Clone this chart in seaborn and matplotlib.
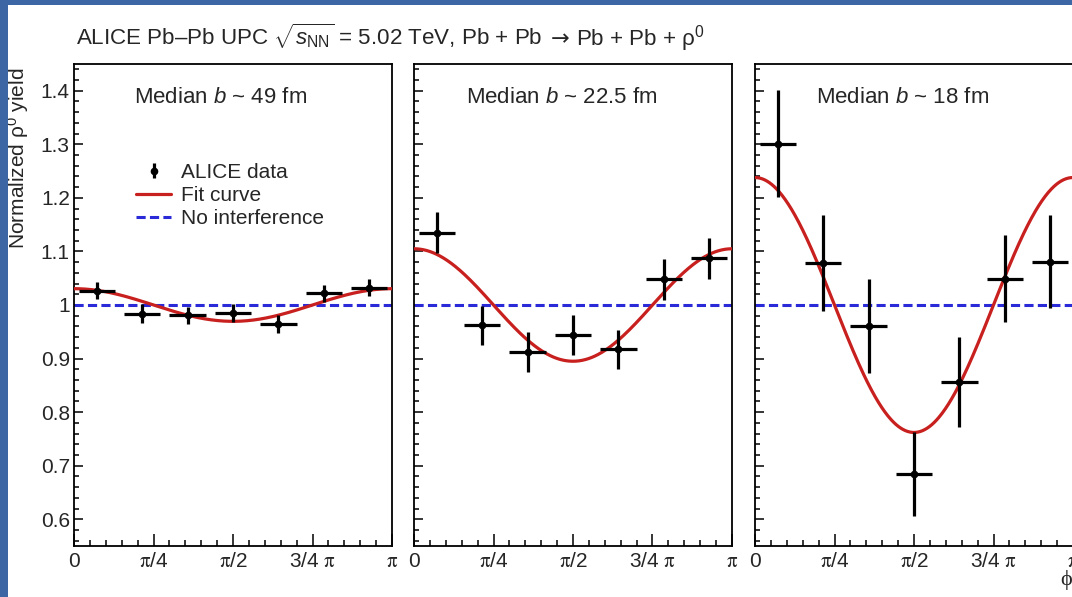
import numpy as np
import pandas as pd
import matplotlib
matplotlib.use("Agg")
import matplotlib.pyplot as plt
import seaborn as sns
from matplotlib.patches import Rectangle
from matplotlib.legend_handler import HandlerErrorbar
from matplotlib.ticker import MultipleLocator, FuncFormatter, FixedLocator

# ---------------- data ----------------
panel_labels = ["Median $b$ ~ 49 fm", "Median $b$ ~ 22.5 fm", "Median $b$ ~ 18 fm"]
n_bins = 7
yield_49 = [1.027, 0.984, 0.981, 0.985, 0.964, 1.022, 1.032]
err_49 = [0.016, 0.017, 0.016, 0.016, 0.017, 0.016, 0.016]
yield_22 = [1.135, 0.962, 0.912, 0.944, 0.917, 1.048, 1.087]
err_22 = [0.038, 0.037, 0.037, 0.037, 0.037, 0.038, 0.038]
yield_18 = [1.301, 1.078, 0.961, 0.684, 0.857, 1.049, 1.081]
err_18 = [0.100, 0.090, 0.088, 0.078, 0.084, 0.081, 0.087]
fit_amplitude = [0.0305, 0.105, 0.238]   # fit: 1 + A cos(2 phi)
xtick_labels = ["0", r"$\mathrm{\pi}$/4", r"$\mathrm{\pi}$/2", r"3/4 $\mathrm{\pi}$", r"$\mathrm{\pi}$"]
ytick_values = [0.6, 0.7, 0.8, 0.9, 1.0, 1.1, 1.2, 1.3, 1.4]
title_parts = [r"ALICE Pb–Pb UPC $\sqrt{s_{\rm NN}}$ = 5.02 TeV, Pb + Pb", "→",
               r"Pb + Pb + ρ$^{0}$"]
ylabel = r"Normalized ρ$^{0}$ yield"

yields = [yield_49, yield_22, yield_18]
errs = [err_49, err_22, err_18]

# ---------------- style ----------------
sns.set_style("white")
plt.rcParams["font.family"] = ["Liberation Sans", "DejaVu Sans"]
plt.rcParams["mathtext.fontset"] = "custom"
plt.rcParams["mathtext.rm"] = "Liberation Sans"
plt.rcParams["mathtext.it"] = "Liberation Sans:italic"
plt.rcParams["mathtext.bf"] = "Liberation Sans:bold"
plt.rcParams["axes.edgecolor"] = "black"
plt.rcParams["axes.linewidth"] = 1.3

W, H = 1072, 597
fig = plt.figure(figsize=(W / 100, H / 100), dpi=100, facecolor="white")

RED = "#c8201e"
BLUE = "#2a2ad8"
FS_TICK = 15
FS_TEXT = 16

bin_w = np.pi / n_bins
phi = (np.arange(n_bins) + 0.5) * bin_w
grid = np.linspace(0, np.pi, 400)

lefts = [74, 414, 755]
ax_w, top, bottom = 318, 64, 546
axes = []
for i in range(3):
    ax = fig.add_axes([lefts[i] / W, 1 - bottom / H, ax_w / W, (bottom - top) / H])
    axes.append(ax)
    ax.set_facecolor("white")

    ax.axhline(1.0, color=BLUE, lw=2.2, dashes=(3.0, 1.4), label="No interference", zorder=2)

    fit_df = pd.DataFrame({"phi": grid, "y": 1 + fit_amplitude[i] * np.cos(2 * grid)})
    sns.lineplot(data=fit_df, x="phi", y="y", ax=ax, color=RED, lw=2.3,
                 label="Fit curve", zorder=3, legend=False)

    ax.errorbar(phi, yields[i], yerr=errs[i], xerr=0.4 * bin_w, fmt="o", color="black",
                ms=4.5, elinewidth=2.3, capsize=0, label="ALICE data", zorder=4)

    ax.set_xlim(0, np.pi)
    ax.set_ylim(0.55, 1.45)
    ax.xaxis.set_major_locator(FixedLocator([0, np.pi / 4, np.pi / 2, 3 * np.pi / 4, np.pi]))
    ax.xaxis.set_minor_locator(MultipleLocator(np.pi / 20))
    ax.set_xticklabels(xtick_labels)
    for lab in ax.get_xticklabels():
        lab.set_math_fontfamily("stix")
    ax.yaxis.set_major_locator(FixedLocator(ytick_values))
    ax.yaxis.set_minor_locator(MultipleLocator(0.02))
    ax.yaxis.set_major_formatter(FuncFormatter(lambda v, p: f"{v:g}"))
    ax.tick_params(axis="x", which="both", bottom=True, top=False)
    ax.tick_params(axis="y", which="both", left=True, right=False)
    ax.tick_params(axis="x", which="major", direction="in", length=8.5, width=1.1,
                   labelsize=FS_TICK, pad=4, color="black")
    ax.tick_params(axis="x", which="minor", direction="in", length=4.3, width=1.1, color="black")
    ax.tick_params(axis="y", which="major", direction="in", length=6.5, width=1.1,
                   labelsize=FS_TICK, pad=3, color="black")
    ax.tick_params(axis="y", which="minor", direction="in", length=3.6, width=1.1, color="black")
    if i > 0:
        ax.tick_params(axis="y", labelleft=False)
    ax.set_xlabel("")
    ax.set_ylabel("")
    for s in ax.spines.values():
        s.set_linewidth(1.3)
        s.set_color("black")

    text_x = [0.189, 0.164, 0.192][i]
    ax.text(text_x, 0.93, panel_labels[i], transform=ax.transAxes, fontsize=FS_TEXT,
            ha="left", va="center")

# legend on first panel
ax0 = axes[0]
handles, labels = ax0.get_legend_handles_labels()
order = [labels.index("ALICE data"), labels.index("Fit curve"), labels.index("No interference")]
leg = ax0.legend([handles[k] for k in order], [labels[k] for k in order],
                 loc="upper left", bbox_to_anchor=(0.195, 0.795), frameon=False,
                 fontsize=15, handlelength=1.7, handletextpad=0.45, labelspacing=0.2,
                 borderpad=0, borderaxespad=0,
                 handler_map={type(handles[order[0]]): HandlerErrorbar(xerr_size=0.0, yerr_size=0.35)})

ax0.set_ylabel(ylabel, fontsize=15)
ax0.yaxis.set_label_coords(-0.135, 0.805)

# title, built from three pieces so the arrow can use a longer glyph
renderer = fig.canvas.get_renderer()
x_px = 76
y_fig = 1 - 45 / H
gaps = [8, 7, 0]
fonts = [None, ["DejaVu Sans"], None]
for part, gap, fam in zip(title_parts, gaps, fonts):
    kw = {"family": fam} if fam else {}
    t = fig.text(x_px / W, y_fig, part, fontsize=16.1, ha="left", va="baseline", **kw)
    bb = t.get_window_extent(renderer=renderer)
    x_px = bb.x1 + gap

fig.text(1066 / W, 1 - 580 / H, "ϕ", fontsize=16, ha="center", va="center",
         family=["Liberation Serif", "DejaVu Serif"])

# screenshot frame
fig.patches.append(Rectangle((0, 0), 8 / W, 1, transform=fig.transFigure,
                             facecolor="#3d66a4", edgecolor="none", zorder=10))
fig.patches.append(Rectangle((0, 1 - 5 / H), 1, 5 / H, transform=fig.transFigure,
                             facecolor="#3d66a4", edgecolor="none", zorder=10))

fig.savefig("out.png", dpi=100, facecolor="white")
